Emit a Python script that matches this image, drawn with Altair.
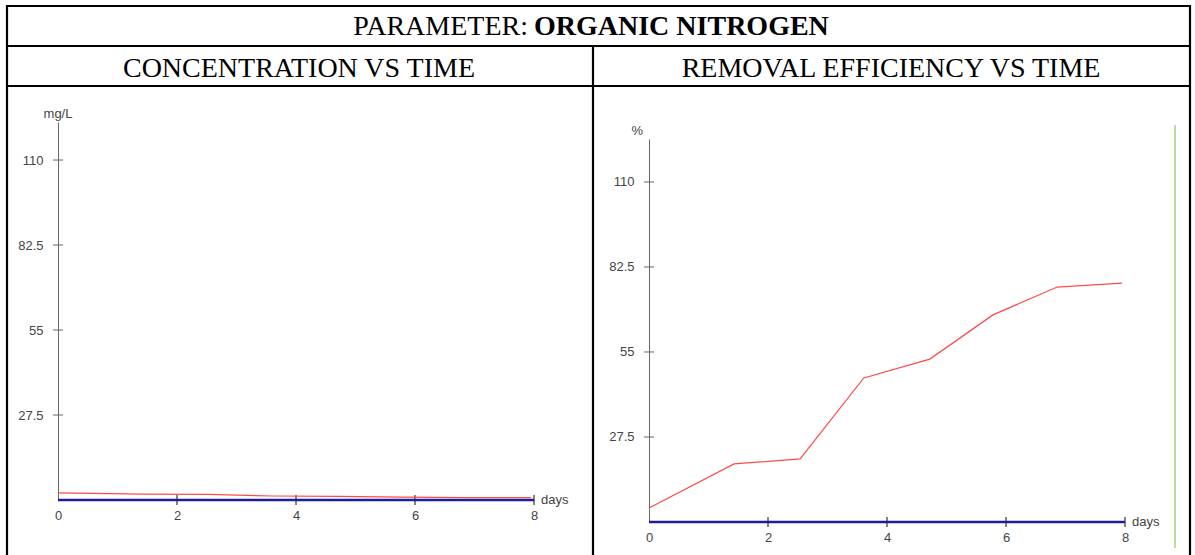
import altair as alt
import pandas as pd

# ---- data ----
days = [0, 1.43, 2.54, 3.61, 4.72, 5.78, 6.86, 7.95]
conc_red = [2.3, 1.9, 1.8, 1.3, 1.2, 0.9, 0.8, 0.8]
eff_red = [4.5, 18.8, 20.4, 46.6, 52.7, 67.0, 76.0, 77.3]
blue_days = [0, 8]
blue_vals = [0, 0]
x_ticks = [0, 2, 4, 6, 8]
x_cross = [2, 4, 6, 8]
y_ticks = [27.5, 55, 82.5, 110]

title_normal = "PARAMETER:"
title_bold = "ORGANIC NITROGEN"
left_title = "CONCENTRATION VS TIME"
right_title = "REMOVAL EFFICIENCY VS TIME"

AXIS_COL = "#666666"
LAB_COL = "#444444"
RED = "#ff4a4a"
BLUE = "#1c1c9c"
SANS = "Liberation Sans"
SERIF = "Liberation Serif"
FS = 13


def panel(x_range, y_range, y_top, x_off, y_off, red_vals, unit, unit_align, unit_dx):
    xs = alt.Scale(domain=[0, 8], range=x_range, nice=False, zero=False)
    ys = alt.Scale(domain=[0, y_top], range=y_range, nice=False, zero=False)
    xax = alt.Axis(orient="bottom", offset=x_off, values=x_ticks, ticks=False,
                   labelPadding=9, domainColor=AXIS_COL, domainWidth=1,
                   labelFont=SANS, labelFontSize=FS, labelColor=LAB_COL,
                   grid=False, title=None, labelFlush=False, format="d")
    yax = alt.Axis(orient="left", offset=y_off, values=y_ticks, ticks=False,
                   labelPadding=15, domainColor=AXIS_COL, domainWidth=1,
                   labelFont=SANS, labelFontSize=FS, labelColor=LAB_COL,
                   grid=False, title=None, labelFlush=False, format=".1~f")
    X = alt.X("day:Q", scale=xs, axis=xax)
    Y = alt.Y("val:Q", scale=ys, axis=yax)

    yt = alt.Chart(pd.DataFrame({"day": [0] * len(y_ticks), "val": y_ticks})).mark_rule(
        xOffset=-5, x2Offset=5, color=AXIS_COL, strokeWidth=1).encode(x=X, x2="day:Q", y=Y)
    xt = alt.Chart(pd.DataFrame({"day": x_cross, "val": [0] * len(x_cross)})).mark_rule(
        yOffset=-5, y2Offset=5, color="#333333", strokeWidth=1.2).encode(x=X, y=Y, y2="val:Q")
    blue = alt.Chart(pd.DataFrame({"day": blue_days, "val": blue_vals})).mark_line(
        color=BLUE, strokeWidth=2.5).encode(x=X, y=Y)
    red = alt.Chart(pd.DataFrame({"day": days, "val": red_vals})).mark_line(
        color=RED, strokeWidth=1.2).encode(x=X, y=Y)
    dlab = alt.Chart(pd.DataFrame({"day": [8], "val": [0], "t": ["days"]})).mark_text(
        align="left", baseline="middle", dx=7, font=SANS, fontSize=FS, color=LAB_COL
    ).encode(x=X, y=Y, text="t:N")
    ulab = alt.Chart(pd.DataFrame({"day": [0], "val": [y_top], "t": [unit]})).mark_text(
        align=unit_align, baseline="bottom", dx=unit_dx, dy=-1, font=SANS, fontSize=FS, color=LAB_COL
    ).encode(x=X, y=Y, text="t:N")
    return alt.layer(yt, xt, blue, red, dlab, ulab)


left = panel([58, 534], [500, 122], 122.3, -55, -58, conc_red, "mg/L", "center", 0)
right = panel([649, 1125], [522, 139], 123.9, -33, -649, eff_red, "%", "right", -6)

one = pd.DataFrame({"k": [0]})


def hline(y, x1, x2, w=2.2, col="black"):
    return alt.Chart(one).mark_rule(color=col, strokeWidth=w).encode(
        x=alt.value(x1), x2=alt.value(x2), y=alt.value(y))


def vline(x, y1, y2, w=2.2, col="black"):
    return alt.Chart(one).mark_rule(color=col, strokeWidth=w).encode(
        x=alt.value(x), y=alt.value(y1), y2=alt.value(y2))


def label(txt, x, y, align, weight="normal", size=28):
    return alt.Chart(one).mark_text(text=txt, align=align, baseline="alphabetic",
                                    font=SERIF, fontSize=size, fontWeight=weight,
                                    color="black").encode(x=alt.value(x), y=alt.value(y))


decor = [
    hline(6, 6, 1191),
    hline(46, 6, 1191),
    hline(86, 6, 1191),
    vline(7, 5, 555),
    vline(1190, 5, 555),
    vline(593, 46, 555),
    vline(1175, 125, 548, w=1.2, col="#84cc66"),
    label(title_normal, 528, 35, "right"),
    label(title_bold, 534, 35, "left", weight="bold"),
    label(left_title, 299, 77, "center"),
    label(right_title, 891, 77, "center"),
]

chart = alt.layer(*decor, left, right).resolve_scale(
    x="independent", y="independent"
).properties(
    width=1195, height=555, padding=0,
    autosize=alt.AutoSizeParams(type="none"),
).configure_view(stroke=None)

chart.save("out.html", embed_options={"renderer": "svg", "actions": False})
